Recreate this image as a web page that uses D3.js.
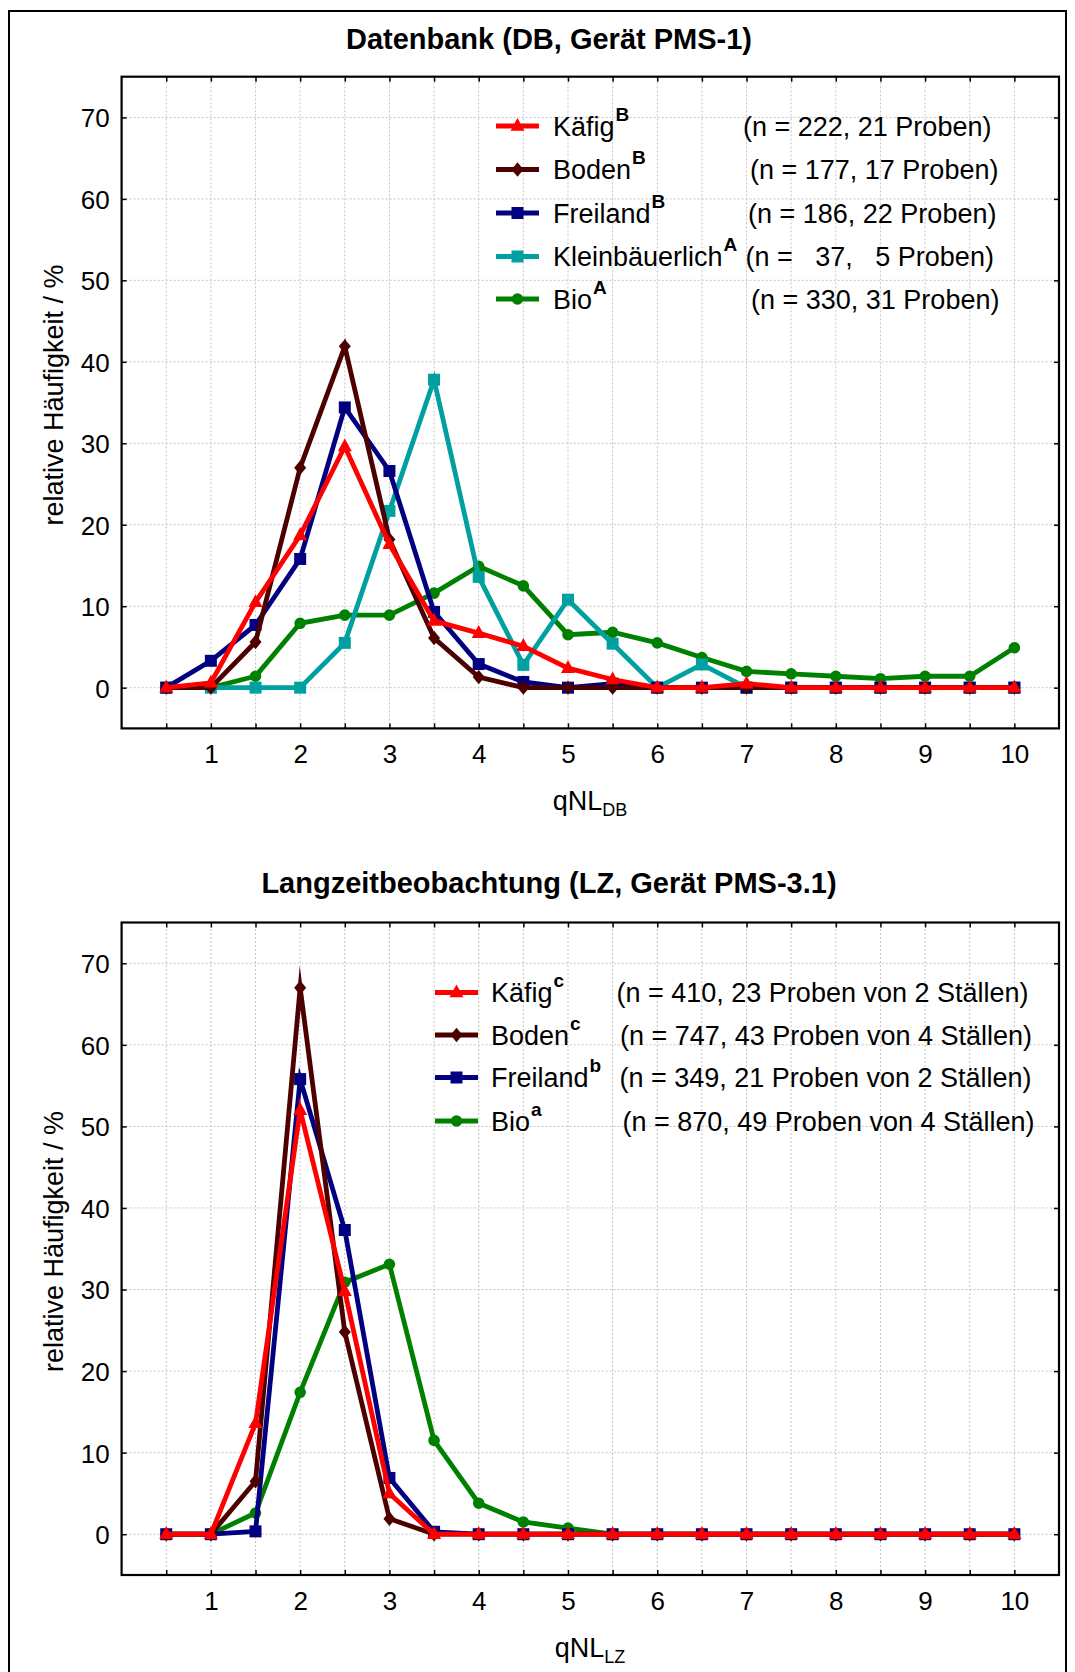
<!DOCTYPE html>
<html><head><meta charset="utf-8">
<script src="https://cdn.jsdelivr.net/npm/d3@7"></script>
<style>
html,body{margin:0;padding:0;background:#fff;}
svg{display:block;font-family:"Liberation Sans",Arial,sans-serif;}
</style></head><body>
<svg id="chart" width="1075" height="1672"></svg>
<script>
// ---------- DATA ----------
const qnlValues = [0.5,1,1.5,2,2.5,3,3.5,4,4.5,5,5.5,6,6.5,7,7.5,8,8.5,9,9.5,10];
const xTickLabels = [1,2,3,4,5,6,7,8,9,10];
const yTickValues = [0,10,20,30,40,50,60,70];

// Panel 1: Datenbank (DB)
const kaefigDB   = [0,0.6,10.5,18.7,29.6,17.6,8.2,6.7,5.1,2.4,1.0,0,0,0.5,0,0,0,0,0,0];
const bodenDB    = [0,0,5.6,27.0,41.9,18.2,6.1,1.3,0,0,0,0,0,0,0,0,0,0,0,0];
const freilandDB = [0,3.3,7.7,15.8,34.4,26.6,9.3,2.9,0.7,0,0.5,0,0,0,0,0,0,0,0,0];
const kleinDB    = [0,0,0,0,5.5,21.7,37.8,13.6,2.8,10.8,5.4,0,2.85,0,0,0,0,0,0,0];
const bioDB      = [0,0,1.4,7.9,8.9,8.9,11.6,14.9,12.5,6.5,6.8,5.5,3.7,2.0,1.7,1.4,1.1,1.4,1.4,4.9];
const namesDB = ["Käfig","Boden","Freiland","Kleinbäuerlich","Bio"];
const supDB   = ["B","B","B","A","A"];
const nTextDB = ["(n = 222, 21 Proben)","(n = 177, 17 Proben)","(n = 186, 22 Proben)","(n =   37,   5 Proben)","(n = 330, 31 Proben)"];

// Panel 2: Langzeitbeobachtung (LZ)
const kaefigLZ   = [0,0,13.6,52.0,29.8,5.0,0,0,0,0,0,0,0,0,0,0,0,0,0,0];
const bodenLZ    = [0,0,6.5,67.0,24.8,1.9,0,0,0,0,0,0,0,0,0,0,0,0,0,0];
const freilandLZ = [0,0,0.35,55.8,37.3,6.9,0.3,0,0,0,0,0,0,0,0,0,0,0,0,0];
const bioLZ      = [0,0,2.6,17.4,30.9,33.1,11.5,3.8,1.5,0.75,0,0,0,0,0,0,0,0,0,0];
const namesLZ = ["Käfig","Boden","Freiland","Bio"];
const supLZ   = ["c","c","b","a"];
const nTextLZ = ["(n = 410, 23 Proben von 2 Ställen)","(n = 747, 43 Proben von 4 Ställen)","(n = 349, 21 Proben von 2 Ställen)","(n = 870, 49 Proben von 4 Ställen)"];

// ---------- STYLE ----------
const styleK = {color:"#FF0000", marker:"triangle"};
const styleB = {color:"#4C0000", marker:"diamond"};
const styleF = {color:"#000080", marker:"square"};
const styleKl= {color:"#00A0A0", marker:"square"};
const styleBi= {color:"#008000", marker:"circle"};

function markerPath(type){
  if(type==="triangle") return "M0,-8L7,4.8L-7,4.8Z";
  if(type==="diamond") return "M0,-7.2L6,0L0,7.2L-6,0Z";
  if(type==="square") return "M-6,-6H6V6H-6Z";
  return d3.symbol(d3.symbolCircle, Math.PI*5.8*5.8)();
}

const svg = d3.select("#chart");
const FONT = '"Liberation Sans",Arial,sans-serif';

svg.append("rect").attr("x",9).attr("y",11).attr("width",1057).attr("height",1720)
  .attr("fill","none").attr("stroke","#000").attr("stroke-width",2);

function panel(cfg){
  const x = d3.scaleLinear().domain([0,10.5]).range([121.6,1059]);
  const y = d3.scaleLinear().domain([-5,75]).range([cfg.bottom,cfg.top]);
  const g = svg.append("g");

  // title
  g.append("text").attr("x",549).attr("y",cfg.titleY).attr("text-anchor","middle")
    .attr("font-size",29).attr("font-weight","bold").attr("font-family",FONT).text(cfg.title);

  // grid
  g.append("g").selectAll("line").data(qnlValues).join("line")
    .attr("x1",d=>x(d)).attr("x2",d=>x(d)).attr("y1",y(-5)).attr("y2",y(75))
    .attr("stroke","#c4c4c4").attr("stroke-width",1).attr("stroke-dasharray","2,2");
  g.append("g").selectAll("line").data(yTickValues).join("line")
    .attr("x1",x(0)).attr("x2",x(10.5)).attr("y1",d=>y(d)).attr("y2",d=>y(d))
    .attr("stroke","#c4c4c4").attr("stroke-width",1).attr("stroke-dasharray","2,2");

  // axes
  const fmt = d => xTickLabels.includes(d) ? String(d) : "";
  const axB = g.append("g").attr("transform",`translate(0,${cfg.bottom})`)
    .call(d3.axisBottom(x).tickValues(qnlValues).tickSizeInner(-5).tickSizeOuter(0).tickPadding(16.5).tickFormat(fmt));
  const axT = g.append("g").attr("transform",`translate(0,${cfg.top})`)
    .call(d3.axisTop(x).tickValues(qnlValues).tickSizeInner(-5).tickSizeOuter(0).tickFormat(""));
  const axL = g.append("g").attr("transform",`translate(${x(0)},0)`)
    .call(d3.axisLeft(y).tickValues(yTickValues).tickSizeInner(-5).tickSizeOuter(0).tickPadding(12));
  const axR = g.append("g").attr("transform",`translate(${x(10.5)},0)`)
    .call(d3.axisRight(y).tickValues(yTickValues).tickSizeInner(-5).tickSizeOuter(0).tickFormat(""));
  [axB,axT,axL,axR].forEach(a=>{
    a.attr("font-size",26).attr("font-family",FONT);
    a.select(".domain").remove();
    a.selectAll(".tick line").attr("stroke","#000").attr("stroke-width",1.5);
    a.selectAll(".tick text").attr("fill","#000");
  });
  axL.selectAll(".tick text").attr("dy","0.36em");

  // frame
  g.append("rect").attr("x",x(0)).attr("y",y(75)).attr("width",x(10.5)-x(0)).attr("height",y(-5)-y(75))
    .attr("fill","none").attr("stroke","#000").attr("stroke-width",2.2);

  // y label
  g.append("text").attr("transform",`translate(63,${cfg.ylabelY}) rotate(-90)`)
    .attr("text-anchor","middle").attr("font-size",27).attr("font-family",FONT)
    .text("relative Häufigkeit / %");

  // x label
  const xl = g.append("text").attr("x",590).attr("y",cfg.bottom+82).attr("text-anchor","middle")
    .attr("font-size",27).attr("font-family",FONT);
  xl.append("tspan").text("qNL");
  xl.append("tspan").attr("font-size",18).attr("dy",6).text(cfg.sub);

  // series (drawn in reverse legend order, first series on top)
  const line = d3.line().x((d,i)=>x(qnlValues[i])).y(d=>y(d));
  cfg.series.slice().reverse().forEach(s=>{
    const sg = g.append("g");
    sg.append("path").datum(s.values).attr("d",line).attr("fill","none")
      .attr("stroke",s.style.color).attr("stroke-width",4.8).attr("stroke-linejoin","miter")
      .attr("stroke-miterlimit",10);
    sg.selectAll("path.m").data(s.values).join("path").attr("class","m")
      .attr("transform",(d,i)=>`translate(${x(qnlValues[i])},${y(d)})`)
      .attr("d",markerPath(s.style.marker)).attr("fill",s.style.color);
  });

  // legend
  const lg = g.append("g");
  cfg.series.forEach((s,i)=>{
    const ly = cfg.legY[i];
    lg.append("line").attr("x1",cfg.legX1).attr("x2",cfg.legX2).attr("y1",ly).attr("y2",ly)
      .attr("stroke",s.style.color).attr("stroke-width",4.8);
    lg.append("path").attr("transform",`translate(${(cfg.legX1+cfg.legX2)/2},${ly})`)
      .attr("d",markerPath(s.style.marker)).attr("fill",s.style.color);
    const t = lg.append("text").attr("x",cfg.textX).attr("y",ly+9.5)
      .attr("font-size",27).attr("font-family",FONT);
    t.append("tspan").text(s.name);
    t.append("tspan").attr("font-size",19).attr("font-weight","bold").attr("dy",-15).attr("dx",1).text(s.sup);
    lg.append("text").attr("x",cfg.nX[i]).attr("y",ly+9.5).attr("font-size",27)
      .attr("font-family",FONT).attr("xml:space","preserve").style("white-space","pre").text(s.n);
  });
}

panel({
  title:"Datenbank (DB, Gerät PMS-1)", titleY:48.5, top:76.7, bottom:728.4, ylabelY:395, sub:"DB",
  legX1:496, legX2:539, textX:553, legY:[126,169.5,213,256.5,299], nX:[743,750,748,745.5,751],
  series:[
    {name:namesDB[0],sup:supDB[0],n:nTextDB[0],values:kaefigDB,style:styleK},
    {name:namesDB[1],sup:supDB[1],n:nTextDB[1],values:bodenDB,style:styleB},
    {name:namesDB[2],sup:supDB[2],n:nTextDB[2],values:freilandDB,style:styleF},
    {name:namesDB[3],sup:supDB[3],n:nTextDB[3],values:kleinDB,style:styleKl},
    {name:namesDB[4],sup:supDB[4],n:nTextDB[4],values:bioDB,style:styleBi}
  ]
});
panel({
  title:"Langzeitbeobachtung (LZ, Gerät PMS-3.1)", titleY:893, top:922.5, bottom:1575, ylabelY:1241.5, sub:"LZ",
  legX1:435, legX2:478, textX:491, legY:[992.5,1035,1077.5,1121], nX:[616.5,620,619.5,622.5],
  series:[
    {name:namesLZ[0],sup:supLZ[0],n:nTextLZ[0],values:kaefigLZ,style:styleK},
    {name:namesLZ[1],sup:supLZ[1],n:nTextLZ[1],values:bodenLZ,style:styleB},
    {name:namesLZ[2],sup:supLZ[2],n:nTextLZ[2],values:freilandLZ,style:styleF},
    {name:namesLZ[3],sup:supLZ[3],n:nTextLZ[3],values:bioLZ,style:styleBi}
  ]
});
</script>
</body></html>
